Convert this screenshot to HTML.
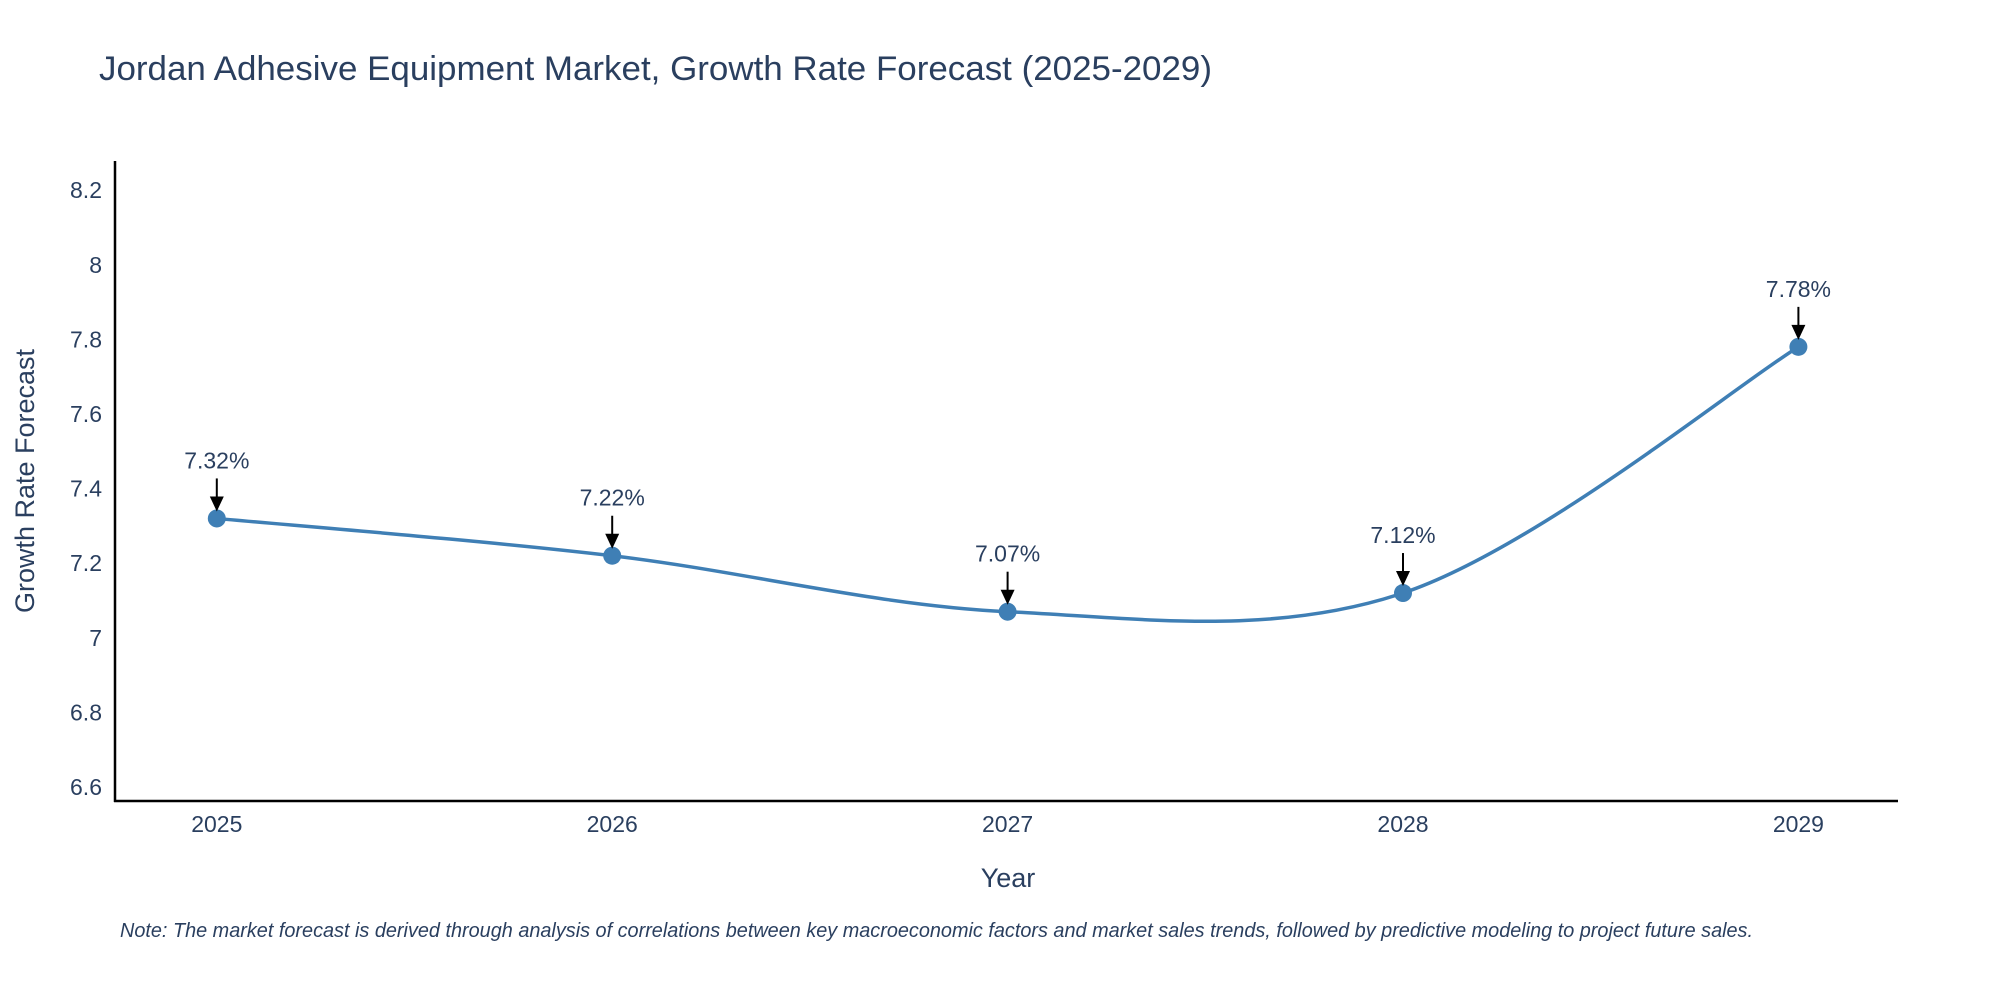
<!DOCTYPE html>
<html><head><meta charset="utf-8"><style>
body{margin:0;background:#fff;}
svg{display:block;font-family:"Liberation Sans",sans-serif;}
</style></head><body>
<svg id="chart" width="2000" height="1000" viewBox="0 0 2000 1000">
<text x="99" y="80" font-size="34" fill="#2a3f5f" textLength="1113" lengthAdjust="spacingAndGlyphs">Jordan Adhesive Equipment Market, Growth Rate Forecast (2025-2029)</text>
<g id="yticks"></g>
<g id="xticks"></g>
<line x1="115" y1="161" x2="115" y2="802" stroke="#000" stroke-width="2.5"/>
<line x1="114" y1="801" x2="1898" y2="801" stroke="#000" stroke-width="2.5"/>
<path id="line" fill="none" stroke="#3f7fb5" stroke-width="3.5"/>
<g id="marks"></g>
<text x="34" y="481" font-size="27" fill="#2a3f5f" text-anchor="middle" transform="rotate(-90 34 481)">Growth Rate Forecast</text>
<text x="1008" y="887" font-size="27" fill="#2a3f5f" text-anchor="middle">Year</text>
<text x="120" y="937" font-size="20" font-style="italic" fill="#2a3f5f" textLength="1633" lengthAdjust="spacingAndGlyphs">Note: The market forecast is derived through analysis of correlations between key macroeconomic factors and market sales trends, followed by predictive modeling to project future sales.</text>
</svg>
<script>
const years=[2025,2026,2027,2028,2029];
const values=[7.32,7.22,7.07,7.12,7.78];
const labels=["7.32%","7.22%","7.07%","7.12%","7.78%"];
const yTicks=[6.6,6.8,7,7.2,7.4,7.6,7.8,8,8.2];
const yTickLabels=["6.6","6.8","7","7.2","7.4","7.6","7.8","8","8.2"];
const NS="http://www.w3.org/2000/svg";
const svg=document.getElementById('chart');
function X(yr){return 216.8+(yr-2025)*395.4;}
function Y(v){return 637.8-(v-7)*373;}
function mk(t,a,p){const e=document.createElementNS(NS,t);for(const k in a)e.setAttribute(k,a[k]);(p||svg).appendChild(e);return e;}
const yg=document.getElementById('yticks');
yTicks.forEach((t,i)=>{const e=mk('text',{x:102,y:Y(t)+8,'font-size':23,fill:'#2a3f5f','text-anchor':'end'},yg);e.textContent=yTickLabels[i];

});
const xg=document.getElementById('xticks');
years.forEach(yr=>{const e=mk('text',{x:X(yr),y:832,'font-size':23,fill:'#2a3f5f','text-anchor':'middle'},xg);e.textContent=yr;

});
const pts=years.map((y,i)=>[X(y),Y(values[i])]);
let d='M'+pts[0][0]+','+pts[0][1];const s=0.5/1.5;
for(let i=0;i<pts.length-1;i++){const p0=pts[Math.max(0,i-1)],p1=pts[i],p2=pts[i+1],p3=pts[Math.min(pts.length-1,i+2)];
const c1=[p1[0]+(p2[0]-p0[0])*s/2,p1[1]+(p2[1]-p0[1])*s/2];const c2=[p2[0]-(p3[0]-p1[0])*s/2,p2[1]-(p3[1]-p1[1])*s/2];
d+=` C${c1[0]},${c1[1]} ${c2[0]},${c2[1]} ${p2[0]},${p2[1]}`;}
document.getElementById('line').setAttribute('d',d);
const mg=document.getElementById('marks');
pts.forEach((p,i)=>{const c=mk('circle',{cx:p[0],cy:p[1],r:9,fill:'#3f7fb5'},mg);


const l=mk('line',{x1:p[0],y1:p[1]-40,x2:p[0],y2:p[1]-20,stroke:'#000','stroke-width':2},mg);


const h=mk('path',{d:`M${p[0]-7},${p[1]-22} L${p[0]+7},${p[1]-22} L${p[0]},${p[1]-7} Z`,fill:'#000'},mg);


const t=mk('text',{x:p[0],y:p[1]-50,'font-size':23,fill:'#2a3f5f','text-anchor':'middle'},mg);t.textContent=labels[i];

});
</script>
</body></html>
